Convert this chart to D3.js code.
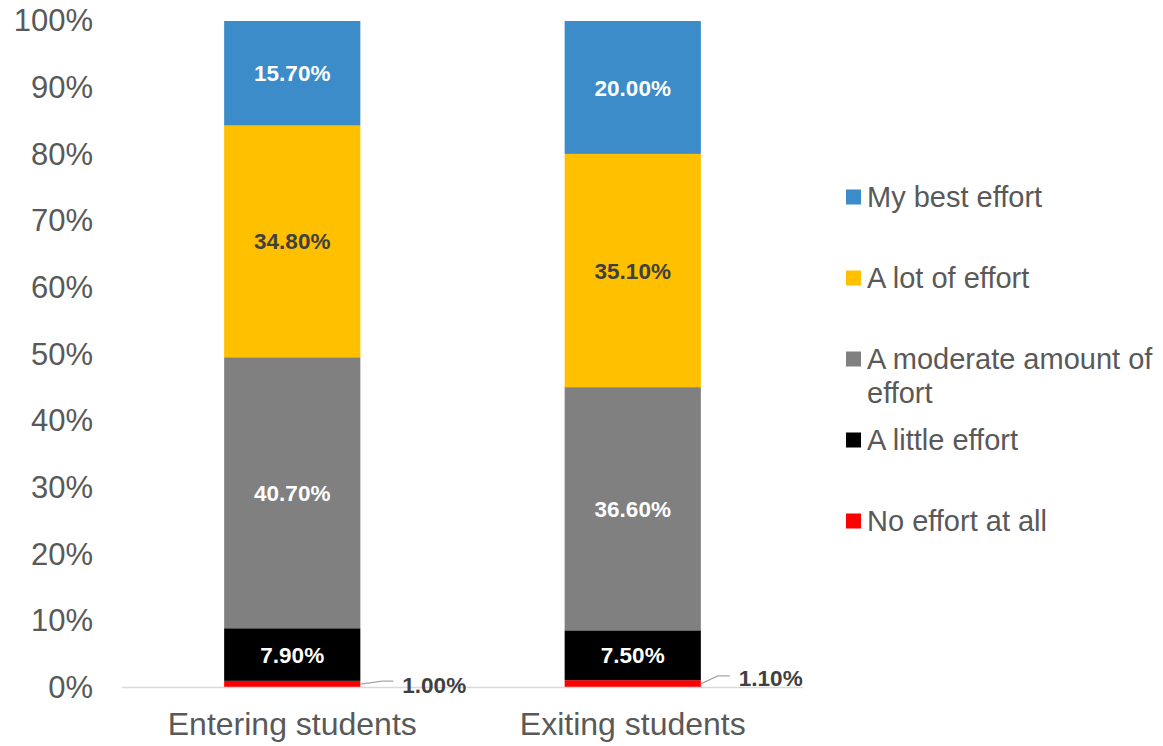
<!DOCTYPE html>
<html>
<head>
<meta charset="utf-8">
<script src="https://cdn.jsdelivr.net/npm/d3@7"></script>
<style>
  html, body { margin: 0; padding: 0; background: #ffffff; }
  svg { display: block; font-family: "Liberation Sans", Arial, sans-serif; }
</style>
</head>
<body>
<svg id="chart" width="1163" height="746"></svg>
<script>
// Survey groups along the x axis
const categories = ["Entering students", "Exiting students"];

// Effort levels, bottom of the stack first
const seriesNames = ["No effort at all", "A little effort", "A moderate amount of effort", "A lot of effort", "My best effort"];

// Percent of respondents per effort level, one array per level
const noEffort       = [1.0, 1.1];
const littleEffort   = [7.9, 7.5];
const moderateEffort = [40.7, 36.6];
const lotOfEffort    = [34.8, 35.1];
const bestEffort     = [15.7, 20.0];

const tickValues = [0, 0.1, 0.2, 0.3, 0.4, 0.5, 0.6, 0.7, 0.8, 0.9, 1.0];

// Styling
const colors = {
  "No effort at all": "#ff0000",
  "A little effort": "#000000",
  "A moderate amount of effort": "#808080",
  "A lot of effort": "#ffc000",
  "My best effort": "#3b8cc8"
};
const labelColors = {
  "No effort at all": "#404040",
  "A little effort": "#ffffff",
  "A moderate amount of effort": "#ffffff",
  "A lot of effort": "#404040",
  "My best effort": "#ffffff"
};
const textGray = "#595959";

// Table built from the named arrays
const seriesValues = [noEffort, littleEffort, moderateEffort, lotOfEffort, bestEffort];
const table = categories.map((c, i) => {
  const row = { category: c };
  seriesNames.forEach((s, k) => { row[s] = seriesValues[k][i]; });
  return row;
});

const stacked = d3.stack()
  .keys(seriesNames)
  .offset(d3.stackOffsetExpand)(table);

const svg = d3.select("#chart");

const x = d3.scaleBand()
  .domain(categories)
  .range([122, 803])
  .paddingInner(0.6)
  .paddingOuter(0.3);

const y = d3.scaleLinear()
  .domain([0, 1])
  .range([687.5, 21]);

// Y axis labels (no line, no ticks)
const yAxis = d3.axisLeft(y)
  .tickValues(tickValues)
  .tickFormat(d3.format(".0%"))
  .tickSize(0)
  .tickPadding(0);

const gy = svg.append("g")
  .attr("transform", "translate(93,0)")
  .call(yAxis);
gy.select(".domain").remove();
gy.selectAll("text")
  .attr("fill", textGray)
  .style("font-size", "31px")
  .style("font-family", "Liberation Sans, Arial, sans-serif");

// Bars
const layer = svg.append("g")
  .selectAll("g")
  .data(stacked)
  .join("g")
  .attr("fill", d => colors[d.key]);

layer.selectAll("rect")
  .data(d => d.map(p => ({ p, key: d.key })))
  .join("rect")
  .attr("x", d => x(d.p.data.category))
  .attr("width", x.bandwidth())
  .attr("y", d => y(d.p[1]))
  .attr("height", d => y(d.p[0]) - y(d.p[1]));

// Baseline
svg.append("line")
  .attr("x1", x.range()[0]).attr("x2", x.range()[1])
  .attr("y1", y(0)).attr("y2", y(0))
  .attr("stroke", "#d9d9d9")
  .attr("stroke-width", 1.5);

// Category labels
const gx = svg.append("g")
  .attr("transform", `translate(0,${y(0)})`)
  .call(d3.axisBottom(x).tickSize(0).tickPadding(0));
gx.select(".domain").remove();
gx.selectAll("text")
  .attr("dy", null)
  .attr("y", 47.5)
  .attr("fill", textGray)
  .style("font-size", "32px")
  .style("font-family", "Liberation Sans, Arial, sans-serif");

// Data labels
const fmt = v => v.toFixed(2) + "%";
const outsideKey = "No effort at all";
// Leader line geometry for the thin bottom segments (per category)
const leader = [
  { dx1: 22, dy1: -3, dx2: 33, gap: 9, ly: 1 },
  { dx1: 17, dy1: -8, dx2: 29, gap: 9, ly: -6 }
];

stacked.forEach(s => {
  s.forEach((p, i) => {
    const cat = p.data.category;
    const val = p.data[s.key];
    const ymid = (y(p[0]) + y(p[1])) / 2;
    if (s.key === outsideKey) {
      const L = leader[i];
      const x0 = x(cat) + x.bandwidth();
      svg.append("polyline")
        .attr("points", `${x0},${ymid} ${x0 + L.dx1},${ymid + L.dy1} ${x0 + L.dx2},${ymid + L.dy1}`)
        .attr("fill", "none")
        .attr("stroke", "#a6a6a6")
        .attr("stroke-width", 1.3);
      svg.append("text")
        .attr("x", x0 + L.dx2 + L.gap)
        .attr("y", ymid + L.ly)
        .attr("dy", "0.36em")
        .attr("fill", labelColors[s.key])
        .style("font-size", "22.5px")
        .style("font-weight", "bold")
        .text(fmt(val));
    } else {
      svg.append("text")
        .attr("x", x(cat) + x.bandwidth() / 2)
        .attr("y", ymid)
        .attr("dy", "0.36em")
        .attr("text-anchor", "middle")
        .attr("fill", labelColors[s.key])
        .style("font-size", "22.5px")
        .style("font-weight", "bold")
        .text(fmt(val));
    }
  });
});

// Legend, top entry is the top of the stack
const legendItems = seriesNames.slice().reverse();
const legendLines = {
  "A moderate amount of effort": ["A moderate amount of", "effort"]
};
const legend = svg.append("g");
legendItems.forEach((name, i) => {
  const cy = 197 + i * 81;
  const g = legend.append("g");
  g.append("rect")
    .attr("x", 846).attr("y", cy - 7.5)
    .attr("width", 15).attr("height", 15)
    .attr("fill", colors[name]);
  const lines = legendLines[name] || [name];
  const t = g.append("text")
    .attr("x", 867)
    .attr("y", cy)
    .attr("fill", textGray)
    .style("font-size", "29px");
  lines.forEach((ln, k) => {
    t.append("tspan")
      .attr("x", 867)
      .attr("dy", k === 0 ? "0.35em" : "1.15em")
      .text(ln);
  });
});
</script>
</body>
</html>
